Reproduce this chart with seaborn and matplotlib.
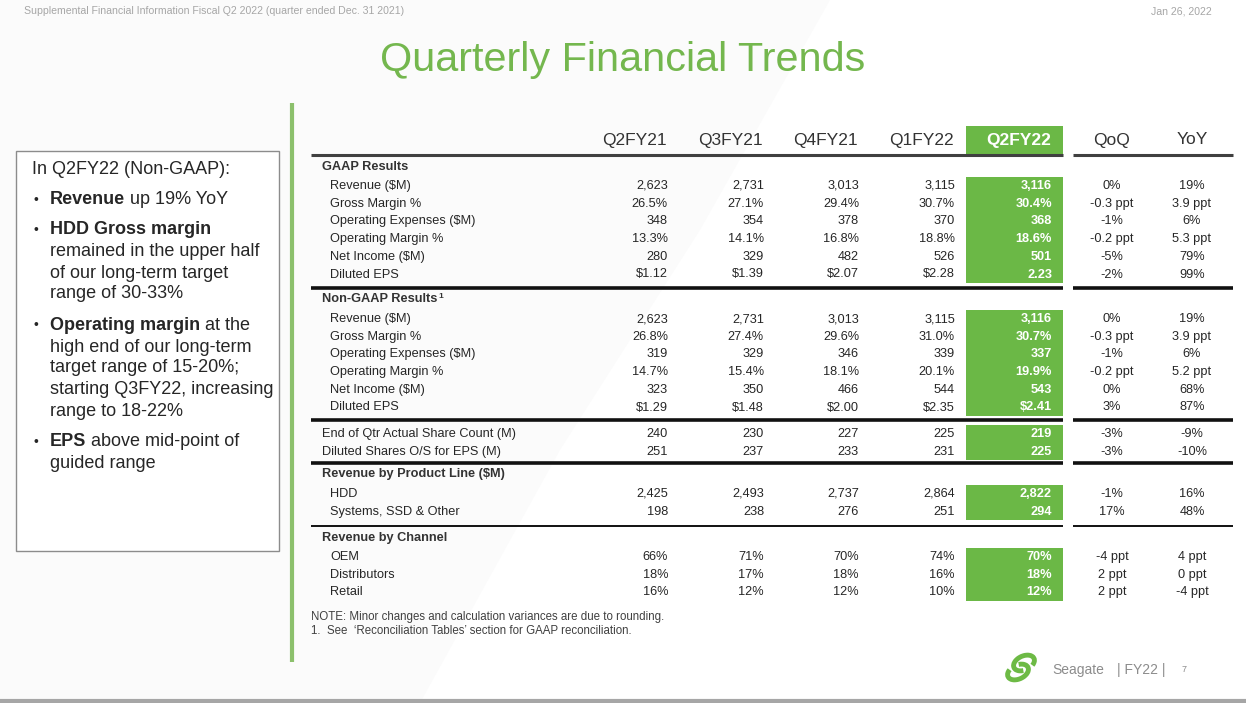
import matplotlib
matplotlib.use("Agg")
import matplotlib.pyplot as plt
from matplotlib.patches import Rectangle, Arc, Polygon
import seaborn as sns

# ---- data (as printed on the slide) ----
quarters = ["Q2FY21", "Q3FY21", "Q4FY21", "Q1FY22", "Q2FY22"]
change_headers = ["QoQ", "YoY"]

row_labels = ["Revenue ($M)", "Gross Margin %", "Operating Expenses ($M)",
              "Operating Margin %", "Net Income ($M)", "Diluted EPS"]

gaap_values = [
    ["2,623", "2,731", "3,013", "3,115", "3,116"],
    ["26.5%", "27.1%", "29.4%", "30.7%", "30.4%"],
    ["348", "354", "378", "370", "368"],
    ["13.3%", "14.1%", "16.8%", "18.8%", "18.6%"],
    ["280", "329", "482", "526", "501"],
    ["$1.12", "$1.39", "$2.07", "$2.28", "2.23"],
]
gaap_changes = [["0%", "19%"], ["-0.3 ppt", "3.9 ppt"], ["-1%", "6%"],
                ["-0.2 ppt", "5.3 ppt"], ["-5%", "79%"], ["-2%", "99%"]]

nongaap_values = [
    ["2,623", "2,731", "3,013", "3,115", "3,116"],
    ["26.8%", "27.4%", "29.6%", "31.0%", "30.7%"],
    ["319", "329", "346", "339", "337"],
    ["14.7%", "15.4%", "18.1%", "20.1%", "19.9%"],
    ["323", "350", "466", "544", "543"],
    ["$1.29", "$1.48", "$2.00", "$2.35", "$2.41"],
]
nongaap_changes = [["0%", "19%"], ["-0.3 ppt", "3.9 ppt"], ["-1%", "6%"],
                   ["-0.2 ppt", "5.2 ppt"], ["0%", "68%"], ["3%", "87%"]]

share_labels = ["End of Qtr Actual Share Count (M)", "Diluted Shares O/S for EPS (M)"]
share_values = [["240", "230", "227", "225", "219"],
                ["251", "237", "233", "231", "225"]]
share_changes = [["-3%", "-9%"], ["-3%", "-10%"]]

product_labels = ["HDD", "Systems, SSD & Other"]
product_values = [["2,425", "2,493", "2,737", "2,864", "2,822"],
                  ["198", "238", "276", "251", "294"]]
product_changes = [["-1%", "16%"], ["17%", "48%"]]

channel_labels = ["OEM", "Distributors", "Retail"]
channel_values = [["66%", "71%", "70%", "74%", "70%"],
                  ["18%", "17%", "18%", "16%", "18%"],
                  ["16%", "12%", "12%", "10%", "12%"]]
channel_changes = [["-4 ppt", "4 ppt"], ["2 ppt", "0 ppt"], ["2 ppt", "-4 ppt"]]

highlights = [
    [("Revenue", "bold"), (" up 19% YoY", "normal")],
    [("HDD Gross margin", "bold")],
    [("remained in the upper half", "normal")],
    [("of our long-term target", "normal")],
    [("range of 30-33%", "normal")],
    [("Operating margin", "bold"), (" at the", "normal")],
    [("high end of our long-term", "normal")],
    [("target range of 15-20%;", "normal")],
    [("starting Q3FY22, increasing", "normal")],
    [("range to 18-22%", "normal")],
    [("EPS", "bold"), (" above mid-point of", "normal")],
    [("guided range", "normal")],
]
highlight_y = [200, 230, 251, 273, 294, 325, 347, 368, 390, 412, 442, 463]
bullet_lines = [0, 1, 5, 10]

# ---- style ----
sns.set_theme(style="white")
plt.rcParams["font.family"] = ["Liberation Sans", "DejaVu Sans"]

GREEN = "#6BB846"
TITLE_GREEN = "#74B74E"
TXT = "#262626"

fig = plt.figure(figsize=(12.46, 7.03), dpi=100)
ax = fig.add_axes([0, 0, 1, 1])
ax.set_xlim(0, 1246)
ax.set_ylim(703, 0)
ax.axis("off")
renderer = fig.canvas.get_renderer()


def text_width(t):
    bb = t.get_window_extent(renderer=renderer)
    return bb.width


def draw_runs(x, y, runs, size, color=TXT):
    for txt, weight in runs:
        t = ax.text(x, y, txt, fontsize=size, fontweight=weight, color=color,
                    va="center", ha="left")
        x += text_width(t)
    return x


# very faint background shading
ax.add_patch(Polygon([(0, 0), (830, 0), (700, 230), (560, 450), (420, 703), (0, 703)],
                     closed=True, facecolor="#fbfbfb", edgecolor="none", zorder=0))

# top strip
ax.text(24, 11, "Supplemental Financial Information Fiscal Q2 2022 (quarter ended Dec. 31 2021)",
        fontsize=7.6, color="#a6a6a6", va="center")
ax.text(1212, 11, "Jan 26, 2022", fontsize=7.6, color="#a6a6a6", va="center", ha="right")
ax.text(623, 60, "Quarterly Financial Trends", fontsize=29.8, color=TITLE_GREEN,
        va="center", ha="center")

# green divider
ax.plot([292, 292], [103, 662], color="#8CC06C", lw=3, solid_capstyle="butt")

# left highlight box
ax.add_patch(Rectangle((16, 151), 263, 400, facecolor="white", edgecolor="#8c8c8c", lw=1))
ax.text(32, 170, "In Q2FY22 (Non-GAAP):", fontsize=13, color=TXT, va="center")
for i, (runs, y) in enumerate(zip(highlights, highlight_y)):
    if i in bullet_lines:
        ax.text(34, y, "\u2022", fontsize=10, color=TXT, va="center")
    draw_runs(50, y, runs, 13)

# ---- table ----
col_right = [668, 764, 859, 955, 1052]
chg_center = [1112, 1192]
hl_left, hl_right = 966, 1063

# header row
ax.add_patch(Rectangle((hl_left, 126), hl_right - hl_left, 28, facecolor=GREEN, edgecolor="none"))
for q, xr in zip(quarters, col_right):
    last = q == quarters[-1]
    ax.text(xr - 1, 140, q, fontsize=12.5, ha="right", va="center",
            color="white" if last else "#333333", fontweight="bold" if last else "normal")
for h, xc in zip(change_headers, chg_center):
    ax.text(xc, 140, h, fontsize=12.5, ha="center", va="center", color="#333333")


def hline(y, lw, color):
    ax.plot([311, hl_right], [y, y], color=color, lw=lw, solid_capstyle="butt")
    ax.plot([1073, 1233], [y, y], color=color, lw=lw, solid_capstyle="butt")


hline(155, 2.2, "#404040")

sections = [
    ("GAAP Results", row_labels, gaap_values, gaap_changes, 330),
    ("Non-GAAP Results", row_labels, nongaap_values, nongaap_changes, 330),
    (None, share_labels, share_values, share_changes, 322),
    ("Revenue by Product Line ($M)", product_labels, product_values, product_changes, 330),
    ("Revenue by Channel", channel_labels, channel_values, channel_changes, 330),
]
section_tops = [155, 288, 420, 463, 526]
section_lines = [(288, 2.6), (420, 2.6), (463, 2.6), (526, 1.4)]
step = 17.7
fs = 9.2

for k, (title, labels, values, changes, lx) in enumerate(sections):
    top = section_tops[k]
    if title:
        xe = draw_runs(322, top + 11.5, [(title, "bold")], fs, color="#333333")
        if title.startswith("Non-GAAP"):
            ax.text(xe + 1, top + 8, "1", fontsize=6, fontweight="bold", color="#333333", va="center")
        first = top + 31
    else:
        first = top + 14
    ys = [first + i * step for i in range(len(labels))]
    ax.add_patch(Rectangle((hl_left, ys[0] - 9), hl_right - hl_left, ys[-1] - ys[0] + 17.5,
                           facecolor=GREEN, edgecolor="none"))
    for y, lab, vals, chg in zip(ys, labels, values, changes):
        ax.text(lx, y, lab, fontsize=fs, color=TXT, va="center")
        for j, (v, xr) in enumerate(zip(vals, col_right)):
            last = j == len(vals) - 1
            ax.text(xr, y, v, fontsize=fs, ha="right", va="center",
                    color="white" if last else TXT, fontweight="bold" if last else "normal")
        for c, xc in zip(chg, chg_center):
            ax.text(xc, y, c, fontsize=fs, ha="center", va="center", color=TXT)
    if k < len(section_lines):
        ly, lw = section_lines[k]
        hline(ly, lw, "#111111")

ax.text(311, 617, "NOTE: Minor changes and calculation variances are due to rounding.",
        fontsize=8.3, color="#404040", va="center")
ax.text(311, 631, "1.  See  \u2018Reconciliation Tables\u2019 section for GAAP reconciliation.",
        fontsize=8.3, color="#404040", va="center")

# footer
ax.add_patch(Arc((1024, 663), 22, 14, angle=-25, theta1=120, theta2=400, color="#6DBA45", lw=3.5))
ax.add_patch(Arc((1018, 672), 22, 14, angle=-25, theta1=300, theta2=580, color="#6DBA45", lw=3.5))
ax.text(1052, 670, "Seagate", fontsize=10, color="#8c8c8c", va="center")
ax.text(1117, 670, "| FY22 |", fontsize=10, color="#8c8c8c", va="center")
ax.text(1182, 670, "7", fontsize=6.5, color="#8c8c8c", va="center")
ax.plot([0, 1246], [701, 701], color="#a6a6a6", lw=3)

fig.savefig("out.png", dpi=100)
